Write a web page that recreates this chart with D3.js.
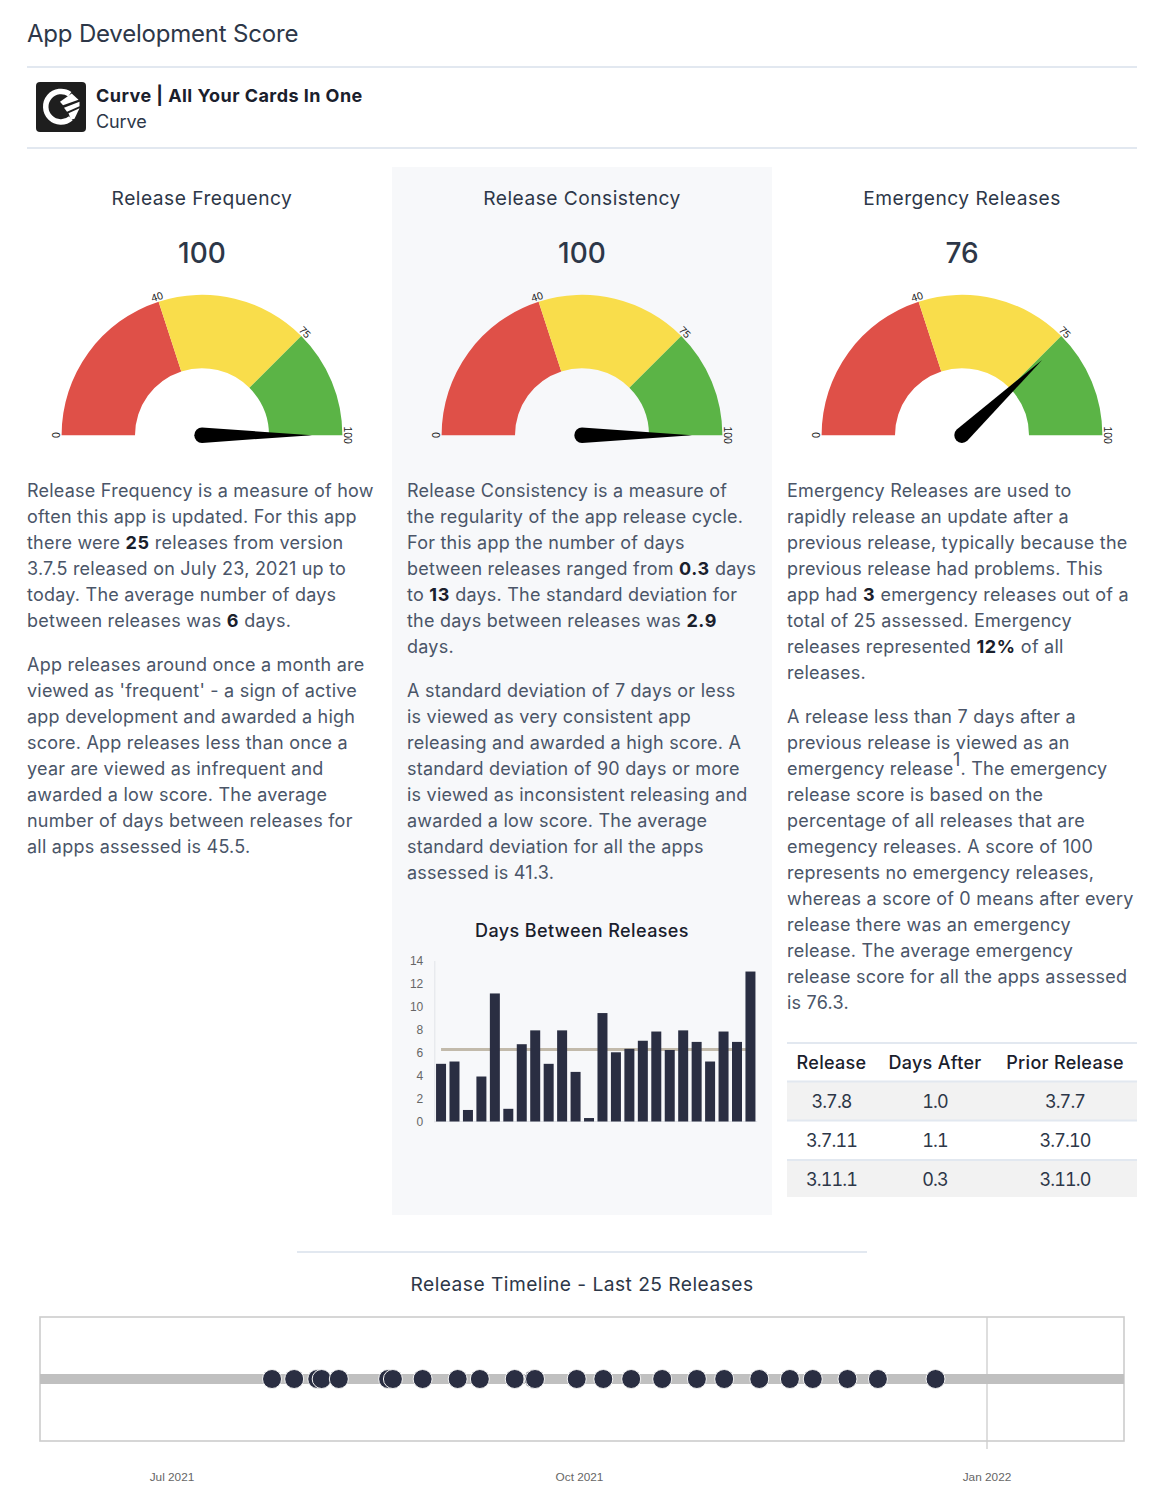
<!DOCTYPE html>
<html><head><meta charset="utf-8">
<script src="https://cdn.jsdelivr.net/npm/d3@7"></script>
<style>
html,body{margin:0;padding:0;background:#fff}
svg{display:block}
text{font-family:Inter,"Noto Sans",sans-serif}
</style></head><body>
<svg id="c" width="1164" height="1508"></svg>
<script>
const gaugeTitles=["Release Frequency","Release Consistency","Emergency Releases"];
const gaugeScores=[100,100,76];
const gaugeBands=[0,40,75,100];
const gaugeColors=["#df5048","#f9dd4b","#5bb446"];
const daysBetween=[5,5.2,1,3.9,11.1,1.1,6.7,7.9,5,7.9,4.3,0.3,9.4,6,6.3,7,7.8,6.2,7.9,6.9,5.2,7.8,6.9,13];
const meanDays=6.25;
const yTicks=[0,2,4,6,8,10,12,14];
const releaseDates=["2021-07-23T14","2021-07-28T14","2021-08-02T19","2021-08-03T19","2021-08-07T16","2021-08-18T19","2021-08-19T21","2021-08-26T14","2021-09-03T12","2021-09-08T12","2021-09-16T09","2021-09-20T16","2021-09-20T23","2021-09-30T09","2021-10-06T09","2021-10-12T16","2021-10-19T16","2021-10-27T12","2021-11-02T16","2021-11-10T14","2021-11-17T12","2021-11-22T16","2021-11-30T12","2021-12-07T09","2021-12-20T09"];
const timeTicks=["2021-07-01","2021-10-01","2022-01-01"];
const tableHead=["Release","Days After","Prior Release"];
const tableRows=[["3.7.8","1.0","3.7.7"],["3.7.11","1.1","3.7.10"],["3.11.1","0.3","3.11.0"]];
const col1=[["Release Frequency is a measure of how","often this app is updated. For this app","there were **25** releases from version","3.7.5 released on July 23, 2021 up to","today. The average number of days","between releases was **6** days."],
["App releases around once a month are","viewed as 'frequent' - a sign of active","app development and awarded a high","score. App releases less than once a","year are viewed as infrequent and","awarded a low score. The average","number of days between releases for","all apps assessed is 45.5."]];
const col2=[["Release Consistency is a measure of","the regularity of the app release cycle.","For this app the number of days","between releases ranged from **0.3** days","to **13** days. The standard deviation for","the days between releases was **2.9**","days."],
["A standard deviation of 7 days or less","is viewed as very consistent app","releasing and awarded a high score. A","standard deviation of 90 days or more","is viewed as inconsistent releasing and","awarded a low score. The average","standard deviation for all the apps","assessed is 41.3."]];
const col3=[["Emergency Releases are used to","rapidly release an update after a","previous release, typically because the","previous release had problems. This","app had **3** emergency releases out of a","total of 25 assessed. Emergency","releases represented **12%** of all","releases."],
["A release less than 7 days after a","previous release is viewed as an","emergency release^^1^^. The emergency","release score is based on the","percentage of all releases that are","emegency releases. A score of 100","represents no emergency releases,","whereas a score of 0 means after every","release there was an emergency","release. The average emergency","release score for all the apps assessed","is 76.3."]];

const svg=d3.select("#c");
const SANS='"Liberation Sans",Arial,sans-serif';
function T(x,y,s,o={}){const t=svg.append("text").attr("x",x).attr("y",y).text(s)
 .attr("font-size",o.size||18).attr("fill",o.fill||"#2d3748").attr("text-anchor",o.anchor||"start")
 .attr("font-weight",o.weight||400).style("letter-spacing",(o.ls===undefined?.45:o.ls)+"px");
 return t;}
function rule(x1,x2,y,c="#e2e8f0",w=2){svg.append("line").attr("x1",x1).attr("x2",x2).attr("y1",y).attr("y2",y).attr("stroke",c).attr("stroke-width",w);}

// panel
svg.append("rect").attr("x",392).attr("y",167).attr("width",380).attr("height",1048).attr("fill","#f7f8fa");
// header
T(27,42,"App Development Score",{size:24,ls:-.2});
rule(27,1137,67);rule(27,1137,148);
svg.append("rect").attr("x",36).attr("y",82).attr("width",50).attr("height",50).attr("rx",4).attr("fill","#1e1e1e");
const logo=svg.append("g").attr("transform","translate(61,106.7)");
logo.append("path").attr("fill","#fff").attr("d",d3.arc()({innerRadius:12.5,outerRadius:18,startAngle:2.44,endAngle:6.9}));
[[[-1,-5],[10.7,-13.3],[17.5,-7],[2,-1.5]],[[3,1],[18.5,-5],[18.5,-.5],[6,5]],[[7.5,6.5],[18.5,1.5],[13.5,12],[10,13]]]
 .forEach(p=>logo.append("path").attr("fill","#fff").attr("d",d3.line()(p)+"Z"));
T(96,102,"Curve | All Your Cards In One",{weight:700,fill:"#1a202c"});
T(96,128,"Curve",{ls:-.1,fill:"#2d3748"});

// gauges
const gx=[202,582,962],gy=435.2,R=140.4,r=67,needle=110,nr=7.7;
const ang=d3.scaleLinear().domain([0,100]).range([-Math.PI/2,Math.PI/2]);
const arc=d3.arc().innerRadius(r).outerRadius(R);
gaugeTitles.forEach((t,i)=>{
 const cx=gx[i];
 T(cx,205,t,{anchor:"middle",size:19.2,ls:.48});
 T(cx,263,gaugeScores[i],{anchor:"middle",size:28,weight:500,ls:0});
 const g=svg.append("g").attr("transform",`translate(${cx},${gy})`);
 g.selectAll("path.seg").data(d3.pairs(gaugeBands)).join("path").attr("class","seg")
  .attr("fill",(d,j)=>gaugeColors[j])
  .attr("d",d=>arc({startAngle:ang(d[0]),endAngle:ang(d[1])}));
 g.selectAll("text").data(gaugeBands).join("text")
  .attr("text-anchor","middle").attr("font-size",10.5).attr("fill","#222").style("font-family",SANS)
  .attr("transform",d=>{const a=ang(d),rad=R+1.5;return `translate(${rad*Math.sin(a)},${-rad*Math.cos(a)}) rotate(${a*180/Math.PI})`;})
  .text(d=>d);
 const a=ang(gaugeScores[i]),dx=Math.sin(a),dy=-Math.cos(a);
 const base=Math.atan2(dy,dx),p=d3.path();
 p.moveTo(dx*needle,dy*needle);
 p.lineTo(nr*Math.cos(base+Math.PI/2),nr*Math.sin(base+Math.PI/2));
 p.arc(0,0,nr,base+Math.PI/2,base-Math.PI/2,false);
 p.closePath();
 g.append("path").attr("d",p.toString()).attr("fill","#000");
});

// paragraphs
function para(x,y0,paras){let y=y0;paras.forEach(ls=>{ls.forEach(l=>{
  const t=svg.append("text").attr("x",x).attr("y",y).attr("font-size",18).attr("fill","#4a5568").style("letter-spacing",".23px");
  let back=0;
  l.split(/(\*\*.*?\*\*|\^\^.*?\^\^)/).forEach(s=>{
   if(!s)return;
   if(s.startsWith("**"))t.append("tspan").attr("font-weight",700).attr("fill","#1a202c").style("letter-spacing",".6px").text(s.slice(2,-2));
   else if(s.startsWith("^^")){t.append("tspan").attr("dy",-9).text(s.slice(2,-2));back=9;}
   else{const sp=t.append("tspan").text(s);if(back){sp.attr("dy",back);back=0;}}
  });
  y+=26;});y+=18;});}
para(27,497,col1);para(407,497,col2);para(787,497,col3);

// bar chart
T(582,937,"Days Between Releases",{anchor:"middle",weight:500,fill:"#1a202c",ls:.4});
const y=d3.scaleLinear().domain([0,14]).range([1121.5,960]);
const x=d3.scaleBand().domain(d3.range(daysBetween.length)).range([434.3,757.2]).paddingInner(.257).paddingOuter(.13);
const yAx=svg.append("g").attr("transform","translate(434.3,0.5)").call(d3.axisLeft(y).tickValues(yTicks).tickSize(0).tickPadding(11));
yAx.select(".domain").attr("stroke","#e2e4e8");
yAx.selectAll("text").style("font-family",SANS).attr("font-size",12).attr("fill","#666");
svg.append("line").attr("x1",434.3).attr("x2",757.2).attr("y1",y(0)).attr("y2",y(0)).attr("stroke","#e2e4e8");
// mean line sits behind the bars
svg.append("path").attr("d",d3.line()([[x(0)+x.bandwidth()/2,y(meanDays)],[x(daysBetween.length-1)+x.bandwidth()/2,y(meanDays)]]))
 .attr("stroke","#c2baab").attr("stroke-width",3).attr("fill","none");
svg.append("g").selectAll("rect").data(daysBetween).join("rect")
 .attr("x",(d,i)=>x(i)).attr("width",x.bandwidth()).attr("y",d=>y(d)).attr("height",d=>y(0)-y(d)).attr("fill","#2a2e42");

// table
const tc=[831.5,935,1065],rowY=[1108,1147,1186];
svg.append("rect").attr("x",787).attr("y",1082).attr("width",350).attr("height",38).attr("fill","#f2f2f2");
svg.append("rect").attr("x",787).attr("y",1160).attr("width",350).attr("height",37).attr("fill","#f2f2f2");
[1043,1081.5,1120.5,1160].forEach(v=>rule(787,1137,v));
tableHead.forEach((h,i)=>T(tc[i],1069,h,{anchor:"middle",weight:500,fill:"#1a202c",ls:.3}));
tableRows.forEach((row,j)=>row.forEach((c,i)=>T(tc[i],rowY[j],c,{anchor:"middle",ls:-.9}).style("font-variant-numeric","tabular-nums").style("font-kerning","none")));

// timeline
rule(297,867,1252);
T(582,1291,"Release Timeline - Last 25 Releases",{anchor:"middle",size:19.2,ls:.46});
const tx=d3.scaleUtc().domain([new Date("2021-07-01"),new Date("2022-01-01")]).range([172,987]);
svg.append("rect").attr("x",40).attr("y",1317).attr("width",1084).attr("height",124).attr("fill","none").attr("stroke","#cccccc").attr("stroke-width",1.6);
svg.append("line").attr("x1",tx(new Date("2022-01-01"))).attr("x2",tx(new Date("2022-01-01"))).attr("y1",1317).attr("y2",1449).attr("stroke","#cccccc").attr("stroke-width",1.3);
svg.append("rect").attr("x",40).attr("y",1374).attr("width",1084).attr("height",10).attr("fill","#c0c0c0");
svg.append("g").selectAll("circle").data(releaseDates).join("circle")
 .attr("cx",d=>tx(new Date(d+":00:00Z"))).attr("cy",1379).attr("r",9.5)
 .attr("fill","#2a2e42").attr("stroke","#f4f4f4").attr("stroke-width",1);
const tf=d3.utcFormat("%b %Y");
svg.append("g").selectAll("text").data(timeTicks).join("text")
 .attr("x",d=>tx(new Date(d))).attr("y",1481).attr("text-anchor","middle").attr("font-size",11.8).attr("fill","#666")
 .style("font-family",SANS).text(d=>tf(new Date(d)));
</script></body></html>
